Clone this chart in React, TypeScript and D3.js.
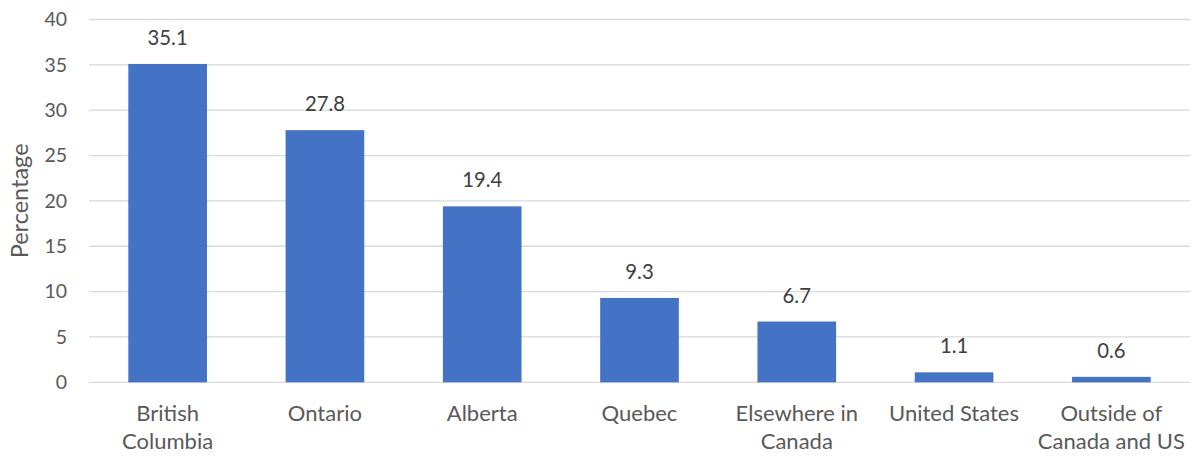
import React from "react";
import * as d3 from "d3";

const categories: string[][] = [
  ["British", "Columbia"],
  ["Ontario"],
  ["Alberta"],
  ["Quebec"],
  ["Elsewhere in", "Canada"],
  ["United States"],
  ["Outside of", "Canada and US"],
];
const values: number[] = [35.1, 27.8, 19.4, 9.3, 6.7, 1.1, 0.6];
const yTicks: number[] = [0, 5, 10, 15, 20, 25, 30, 35, 40];
const yTitle = "Percentage";

const W = 1192;
const H = 456;
const margin = { left: 89, right: 2, top: 19.5, bottom: 73.7 };
const FONT = "Lato, 'Open Sans', sans-serif";
const TEXT = "#595959";

export default function App() {
  const keys = categories.map((c) => c.join(" "));
  const x = d3
    .scaleBand<string>()
    .domain(keys)
    .range([margin.left, W - margin.right])
    .paddingInner(0.5)
    .paddingOuter(0.25);
  const y = d3.scaleLinear().domain([0, 40]).range([H - margin.bottom, margin.top]);

  return (
    <svg
      width={W}
      height={H}
      style={{ position: "absolute", left: 0, top: 0, background: "#fff" }}
      fontFamily={FONT}
    >
      {yTicks.map((t) => (
        <g key={t}>
          <line
            x1={margin.left}
            x2={W - margin.right}
            y1={y(t)}
            y2={y(t)}
            stroke="#d9d9d9"
            strokeWidth={1.3}
          />
          <text x={67} y={y(t)} dy="0.35em" textAnchor="end" fontSize={19.5} fill={TEXT}>
            {t}
          </text>
        </g>
      ))}
      {values.map((v, i) => {
        const k = keys[i];
        const bx = x(k)!;
        return (
          <g key={k}>
            <rect x={bx} y={y(v)} width={x.bandwidth()} height={y(0) - y(v)} fill="#4472c4" />
            <text
              x={bx + x.bandwidth() / 2}
              y={y(v) - 19}
              textAnchor="middle"
              fontSize={20.3}
              fill="#404040"
            >
              {v.toFixed(1)}
            </text>
          </g>
        );
      })}
      {categories.map((lines, i) => {
        const cx = x(keys[i])! + x.bandwidth() / 2;
        return (
          <text key={keys[i]} textAnchor="middle" fontSize={22} fill={TEXT}>
            {lines.map((l, j) => (
              <tspan key={j} x={cx} y={421 + j * 28}>
                {l}
              </tspan>
            ))}
          </text>
        );
      })}
      <text
        transform={`translate(28, ${(y(0) + y(40)) / 2}) rotate(-90)`}
        textAnchor="middle"
        fontSize={23.5}
        fill={TEXT}
      >
        {yTitle}
      </text>
    </svg>
  );
}
